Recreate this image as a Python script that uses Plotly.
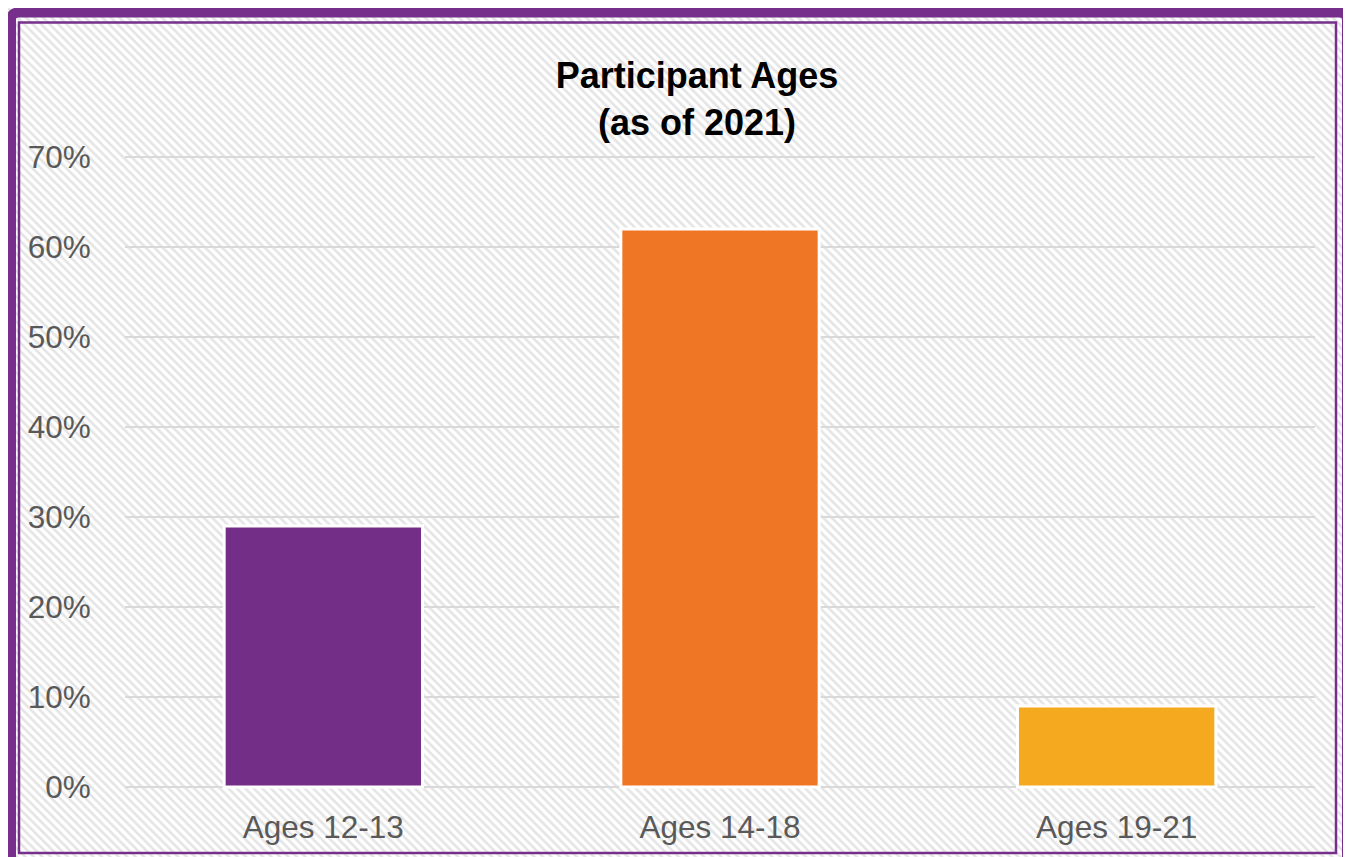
import plotly.graph_objects as go

W, H = 1351, 857

categories = ["Ages 12-13", "Ages 14-18", "Ages 19-21"]
values = [29, 62, 9]
bar_colors = ["#732E88", "#EE7624", "#F4A91E"]
y_ticks = [0, 10, 20, 30, 40, 50, 60, 70]
y_tick_labels = [f"{v}%" for v in y_ticks]

FONT = "Arial, Liberation Sans, sans-serif"
PURPLE = "#76308B"

fig = go.Figure()

# hatched background on a full-page helper subplot (pixel coordinates)
fig.add_trace(go.Scatter(
    x=[0, W, W, 0, 0], y=[0, 0, H, H, 0],
    xaxis="x", yaxis="y",
    mode="lines", line=dict(width=0),
    fill="toself", fillcolor="white",
    fillpattern=dict(shape="\\", size=6, solidity=0.42,
                     fgcolor="#e4e4e4", bgcolor="white"),
    hoverinfo="skip", showlegend=False,
))

fig.add_trace(go.Bar(
    x=categories, y=values,
    xaxis="x2", yaxis="y2",
    marker=dict(color=bar_colors, line=dict(color="white", width=3)),
    showlegend=False,
))

# plot-area position in page pixels
x0, x1 = 117, 1307
y_top, y_bot = 149, 779
pad = 0.5  # % of range padding so edge gridlines are visible
px_per_pct = (y_bot - y_top) / 70.0

fig.update_layout(
    template="none",
    width=W, height=H,
    autosize=False,
    margin=dict(l=0, r=0, t=0, b=0, pad=0),
    paper_bgcolor="white",
    plot_bgcolor="rgba(0,0,0,0)",
    bargap=0.5,
    title=dict(
        text="<b>Participant Ages</b><br><b>(as of 2021)</b>",
        x=689 / W, xanchor="center",
        y=1 - 80 / H, yanchor="middle",
        font=dict(family=FONT, size=36, color="black"),
    ),
    xaxis=dict(domain=[0, 1], range=[0, W], visible=False, fixedrange=True, automargin=False),
    yaxis=dict(domain=[0, 1], range=[H, 0], visible=False, fixedrange=True, automargin=False),
    xaxis2=dict(
        domain=[x0 / W, x1 / W], anchor="y2", automargin=False,
        showgrid=False, showline=False, zeroline=False,
        ticks="outside", ticklen=3 + pad * px_per_pct, tickcolor="rgba(0,0,0,0)",
        tickfont=dict(family=FONT, size=31.5, color="#595959"),
    ),
    yaxis2=dict(
        domain=[1 - (y_bot + pad * px_per_pct) / H, 1 - (y_top - pad * px_per_pct) / H],
        anchor="x2", automargin=False,
        range=[-pad, 70 + pad],
        tickvals=y_ticks, ticktext=y_tick_labels,
        showgrid=True, gridcolor="#d9d9d9", gridwidth=2,
        zeroline=False, showline=False,
        ticks="outside", ticklen=27, tickcolor="rgba(0,0,0,0)",
        tickfont=dict(family=FONT, size=31.5, color="#595959"),
    ),
    shapes=[
        dict(type="path", xref="x", yref="y", layer="above",
             path="M 3,870 L 3,12 Q 3,4.5 10.5,4.5 L 1331.5,4.5 Q 1339,4.5 1339,12 L 1339,870",
             line=dict(color=PURPLE, width=10)),
        dict(type="rect", xref="x", yref="y", layer="above",
             x0=11, x1=1328, y0=14.5, y1=845,
             line=dict(color=PURPLE, width=2.5)),
    ],
)

fig.write_html("out.html")
